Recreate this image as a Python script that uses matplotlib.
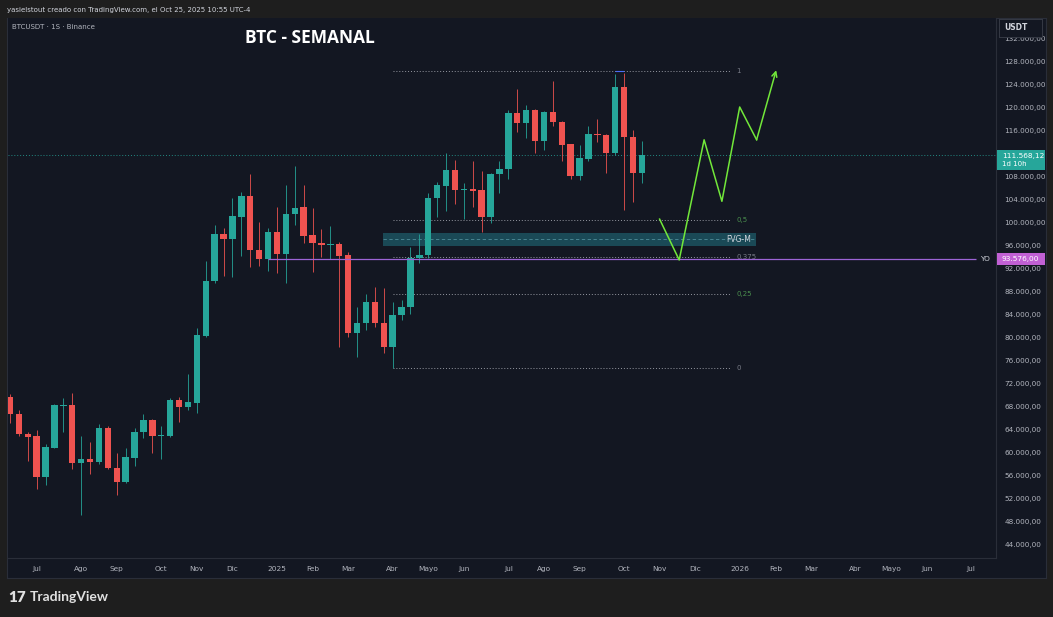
import matplotlib
matplotlib.use('Agg')
import matplotlib.pyplot as plt
import matplotlib.transforms as mtransforms
from matplotlib.patches import Rectangle
import numpy as np
import pandas as pd

plt.rcParams['font.family'] = ['DejaVu Sans']

# ---- datos (velas semanales BTCUSDT, desde 2024-06-10) ----
start_week = '2024-06-10'
opens = [69630, 66650, 63130, 62780, 55710, 60760, 68060, 68180, 58030, 58730,
         58320, 64120, 57280, 54790, 59020, 63430, 65570, 62730, 62790, 69050,
         67890, 68580, 80230, 89740, 97920, 97100, 100930, 104520, 95130, 93570,
         98320, 94380, 101340, 102550, 97680, 96350, 96000, 96120, 94260, 80640,
         82490, 86090, 82380, 78320, 83770, 85160, 93740, 94260, 104120, 106260,
         109040, 105570, 105800, 105570, 100930, 108290, 109220, 119020, 117160, 119480,
         114090, 119190, 117450, 113510, 108060, 110960, 115300, 115190, 112060, 123540,
         114840, 108580]
highs = [70090, 67310, 63400, 63830, 61330, 68350, 69450, 70210, 62790, 61800,
         64870, 64530, 59770, 60640, 64120, 66560, 65700, 64530, 69340, 69630,
         73510, 81510, 93220, 99480, 98900, 104120, 105160, 108350, 100000, 98900,
         102670, 106380, 109740, 106380, 102380, 98780, 99360, 96580, 94800, 85280,
         87420, 88750, 88580, 86090, 86440, 95710, 97910, 104990, 107020, 111940,
         110780, 106840, 110610, 108870, 108460, 110610, 119480, 123190, 120350, 119700,
         119300, 124520, 117600, 113600, 113390, 116700, 117860, 115300, 125740, 125970,
         116000, 114090]
lows = [65100, 62790, 58430, 53500, 54270, 60640, 63430, 56990, 49050, 56110,
        57910, 57050, 52530, 54560, 57570, 62500, 59890, 58790, 62560, 65280,
        67300, 66800, 80000, 89340, 90610, 90380, 94090, 92230, 92350, 91480,
        91190, 89340, 99480, 96290, 91360, 93970, 93570, 78320, 80060, 76580,
        81220, 81800, 77160, 74550, 82960, 84000, 92810, 93680, 100930, 101970,
        103130, 100460, 102670, 98320, 99770, 105100, 107420, 115710, 114670, 111940,
        112520, 116700, 110670, 107420, 107300, 110670, 113970, 108460, 111650, 102090,
        103540, 106730]
closes = [66610, 63100, 62670, 55710, 60810, 68180, 68230, 58030, 58730, 58260,
          64120, 57160, 54790, 59080, 63540, 65570, 62790, 62840, 69050, 67890,
          68640, 80350, 89800, 97920, 97100, 101050, 104520, 95130, 93510, 98320,
          94380, 101340, 102490, 97630, 96290, 96000, 96120, 94150, 80640, 82490,
          86090, 82380, 78320, 83770, 85160, 93740, 94260, 104120, 106440, 109040,
          105570, 105800, 105450, 100930, 108290, 109220, 119020, 117160, 119480, 114090,
          119190, 117330, 113390, 108060, 111190, 115300, 115130, 112060, 123540, 114840,
          108580, 111568.12]

cur_price = 111568.12
year_open = 93576.0
fib_low = 74550
fib_high = 126250
fib_levels = [0, 0.25, 0.375, 0.5, 1]
fib_labels = ['0', '0,25', '0,375', '0,5', '1']
fvg_low = 95830
fvg_high = 98090
# proyeccion dibujada (semana desde inicio, precio)
proj_week = [73.0, 75.2, 78.0, 80.0, 82.0, 83.9, 86.1]
proj_price = [100500, 93400, 114300, 103600, 120000, 114300, 126400]
meses = {2: 'Feb', 3: 'Mar', 4: 'Abr', 5: 'Mayo', 6: 'Jun', 7: 'Jul',
         8: 'Ago', 9: 'Sep', 10: 'Oct', 11: 'Nov', 12: 'Dic'}
# 112.000 queda tapado por la etiqueta del precio actual
price_ticks = [v for v in range(44000, 132001, 4000) if v != 112000]

# ---- colores ----
BG_OUT = '#1e1e1e'
BG = '#131722'
UP = '#26a69a'
DOWN = '#ef5350'
TXT = '#b2b5be'
GRID = '#2a2e39'

W, H = 1053, 617
fig = plt.figure(figsize=(W / 100, H / 100), dpi=100, facecolor=BG_OUT)


def fr(x0, y0, x1, y1):
    return [x0 / W, 1 - y1 / H, (x1 - x0) / W, (y1 - y0) / H]


bg = fig.add_axes(fr(7, 18, 1046, 578))
bg.set_facecolor(BG)
bg.set_xticks([])
bg.set_yticks([])
for s in bg.spines.values():
    s.set_color(GRID)
    s.set_linewidth(0.8)

ax = fig.add_axes(fr(8, 18, 996, 558))
ax.set_facecolor(BG)
for s in ax.spines.values():
    s.set_visible(False)
ax.spines['right'].set_visible(True)
ax.spines['right'].set_color(GRID)
ax.spines['bottom'].set_visible(True)
ax.spines['bottom'].set_color(GRID)

n = len(opens)
x = np.arange(n)
o = np.array(opens, float)
h = np.array(highs, float)
l = np.array(lows, float)
c = np.array(closes, float)
cols = np.where(c >= o, UP, DOWN)

ax.vlines(x, l, h, colors=cols, linewidth=0.7, alpha=0.85, zorder=3)
body_lo = np.minimum(o, c)
body_h = np.maximum(np.abs(c - o), 150)
ax.bar(x, body_h, bottom=body_lo, width=0.72, color=cols, linewidth=0, zorder=4)

ax.set_xlim(-0.22, 110.8)
ax.set_ylim(41572, 135478)

# eje temporal
dates = pd.date_range(start_week, periods=112, freq='7D')
tick_pos, tick_lab = [], []
for i in range(1, len(dates)):
    if dates[i].month != dates[i - 1].month:
        tick_pos.append(i)
        tick_lab.append(str(dates[i].year) if dates[i].month == 1 else meses[dates[i].month])
ax.set_xticks(tick_pos)
ax.set_xticklabels(tick_lab, color=TXT, fontsize=5.3)
ax.tick_params(axis='x', length=0, pad=6)

# eje de precios a la derecha
ax.yaxis.tick_right()
ax.set_yticks(price_ticks)
ax.set_yticklabels([f'{v:,.2f}'.replace(',', 'X').replace('.', ',').replace('X', '.')
                    for v in price_ticks], color=TXT, fontsize=5.2)
ax.tick_params(axis='y', length=0, pad=6)

# linea de precio actual
ax.axhline(cur_price, color=UP, linestyle=(0, (1, 2)), linewidth=0.7, alpha=0.8, zorder=2)

# fibonacci
fib_x0, fib_x1 = 43, 80.9
for lev, lab in zip(fib_levels, fib_labels):
    p = fib_low + lev * (fib_high - fib_low)
    ax.hlines(p, fib_x0, fib_x1, color='#9598a1', linestyle=(0, (1, 2)), linewidth=0.7, zorder=2)
    lc = '#4a8f4e' if lev in (0.25, 0.5) else '#787b86'
    ax.text(fib_x1 + 0.7, p, lab, color=lc, fontsize=5, va='center', ha='left')

# FVG-M
ax.add_patch(Rectangle((41.9, fvg_low), 83.8 - 41.9, fvg_high - fvg_low,
                       facecolor='#1d5a68', alpha=0.75, edgecolor='none', zorder=1))
ax.hlines((fvg_low + fvg_high) / 2, 41.9, 83.8, color='#4f8c99', linestyle=(0, (4, 3)),
          linewidth=0.6, zorder=1.5)
ax.text(83.3, (fvg_low + fvg_high) / 2, 'FVG-M', color='#d1d4dc', fontsize=5.5,
        ha='right', va='center', zorder=6)

# apertura anual (YO)
ax.hlines(year_open, 29, 108.6, color='#9c64d6', linewidth=0.9, zorder=5)
ax.text(109.0, year_open, 'YO', color='#d1d4dc', fontsize=5.3, va='center', ha='left')

# marca azul en el maximo
ax.hlines(max(highs) + 300, 68, 69, color='#4a6cf7', linewidth=0.8, zorder=5)

# proyeccion
ax.plot(proj_week[:-1], proj_price[:-1], color='#72e83a', linewidth=1.1, zorder=6)
ax.annotate('', xy=(proj_week[-1], proj_price[-1]), xytext=(proj_week[-2], proj_price[-2]),
            arrowprops=dict(arrowstyle='->', color='#72e83a', lw=1.1,
                            shrinkA=0, shrinkB=0, mutation_scale=9), zorder=6)

# etiquetas en el eje de precios
tr = mtransforms.blended_transform_factory(ax.transAxes, ax.transData)
ax.add_patch(Rectangle((1.001, cur_price - 2450), 0.049, 3480, transform=tr,
                       facecolor=UP, edgecolor='none', clip_on=False, zorder=7))
ax.text(1.006, cur_price - 50, '111.568,12', transform=tr, color='white', fontsize=5.3,
        va='center', ha='left', clip_on=False, zorder=8)
ax.text(1.006, cur_price - 1500, '1d 10h', transform=tr, color='white', fontsize=5.0,
        va='center', ha='left', clip_on=False, zorder=8)
ax.add_patch(Rectangle((1.001, year_open - 1050), 0.049, 2100, transform=tr,
                       facecolor='#c160d4', edgecolor='none', clip_on=False, zorder=7))
ax.text(1.006, year_open, '93.576,00', transform=tr, color='white', fontsize=5.3,
        va='center', ha='left', clip_on=False, zorder=8)

# cabecera "USDT" (tapa parcialmente la etiqueta 132.000)
ua = fig.add_axes(fr(999, 19, 1042, 37))
ua.set_facecolor(BG)
ua.set_xticks([])
ua.set_yticks([])
for s in ua.spines.values():
    s.set_color('#363a45')
    s.set_linewidth(0.7)
ua.text(0.12, 0.55, 'USDT', color='#d1d4dc', fontsize=5.5, fontweight='bold',
        va='center', ha='left', transform=ua.transAxes)

# textos
fig.text(7 / W, 1 - 10 / H, 'yasielstout creado con TradingView.com, el Oct 25, 2025 10:55 UTC-4',
         color='#d1d4dc', fontsize=5.0, va='center', ha='left')
fig.text(12 / W, 1 - 27 / H, 'BTCUSDT · 1S · Binance', color=TXT, fontsize=5.0,
         va='center', ha='left')
fig.text(245 / W, 1 - 38 / H, 'BTC - SEMANAL', color='white', fontsize=12.5,
         fontweight='bold', family='Open Sans', va='center', ha='left')
fig.text(30 / W, 1 - 597 / H, 'TradingView', color='#e0e0e0', fontsize=10,
         fontweight='bold', family='Lato', va='center', ha='left')
fig.text(8 / W, 1 - 597 / H, '17', color='#e0e0e0', fontsize=11,
         fontweight='heavy', family='Lato', va='center', ha='left')

fig.savefig('out.png', dpi=100, facecolor=BG_OUT)
